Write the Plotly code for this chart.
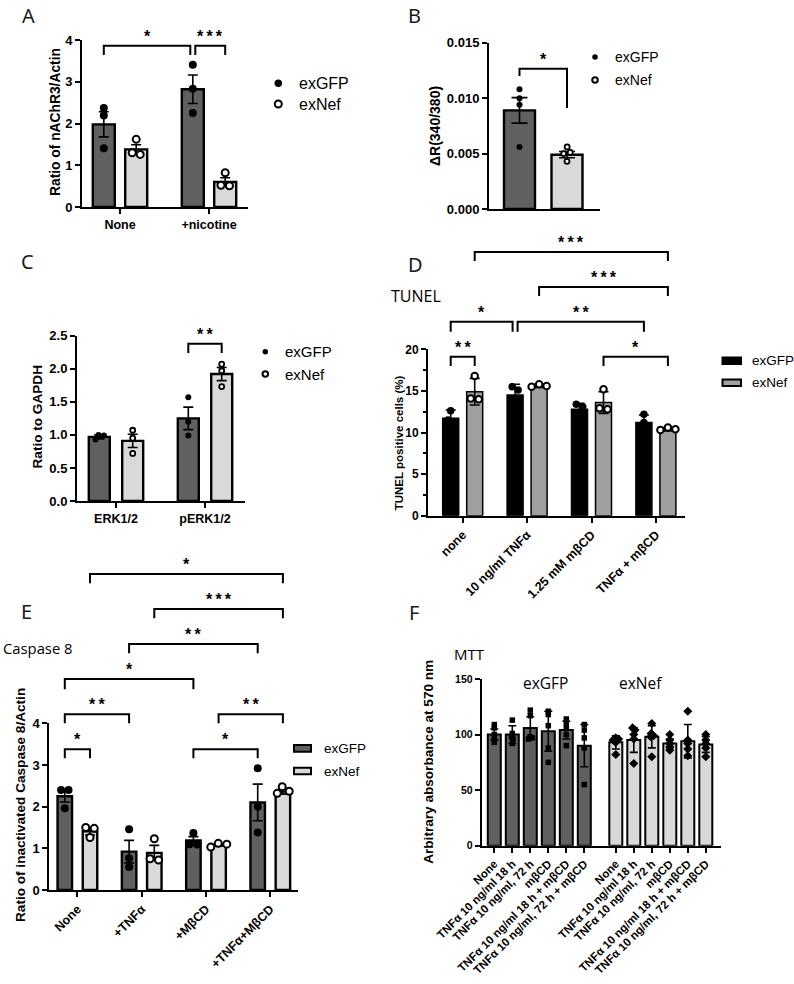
import math
import plotly.graph_objects as go

W, H = 794, 984
NUM = "Liberation Sans"
SANS = "Open Sans"
LET = "Noto Sans"

# ---------------- data ----------------
A_categories = ["None", "+nicotine"]
A_gfp_mean = [1.98, 2.82]
A_gfp_err = [0.30, 0.34]
A_gfp_points = [[2.37, 2.19, 1.41], [3.41, 2.83, 2.25]]
A_nef_mean = [1.38, 0.60]
A_nef_err = [0.11, 0.10]
A_nef_points = [[1.62, 1.26, 1.30], [0.82, 0.51, 0.52]]
A_yticks = [0, 1, 2, 3, 4]

B_groups = ["exGFP", "exNef"]
B_mean = [0.0089, 0.0049]
B_err = [0.00115, 0.00028]
B_points = [[0.0108, 0.0100, 0.0094, 0.0056], [0.0056, 0.0051, 0.0050, 0.0043]]
B_yticks = [0, 0.005, 0.010, 0.015]
B_yticklabels = ["0.000", "0.005", "0.010", "0.015"]

C_categories = ["ERK1/2", "pERK1/2"]
C_gfp_mean = [0.97, 1.25]
C_gfp_err = [0.03, 0.17]
C_gfp_points = [[1.00, 0.99, 0.93], [1.57, 1.20, 0.99]]
C_nef_mean = [0.91, 1.92]
C_nef_err = [0.10, 0.10]
C_nef_points = [[1.07, 0.95, 0.72], [2.07, 1.97, 1.73]]
C_yticks = [0, 0.5, 1.0, 1.5, 2.0, 2.5]

D_categories = ["none", "10 ng/ml TNFα", "1.25 mM mβCD", "TNFα + mβCD"]
D_gfp_mean = [11.7, 14.5, 12.8, 11.2]
D_gfp_err = [1.0, 1.3, 0.7, 0.9]
D_gfp_points = [[12.6, 11.5, 11.0], [15.5, 15.1, 13.0], [13.4, 13.1, 12.0], [12.2, 11.2, 10.3]]
D_nef_mean = [14.9, 15.6, 13.6, 10.4]
D_nef_err = [1.6, 0.2, 1.3, 0.2]
D_nef_points = [[16.8, 14.0, 14.1], [15.8, 15.6, 15.5], [15.2, 12.9, 12.8], [10.6, 10.4, 10.3]]
D_yticks = [0, 5, 10, 15, 20]

E_categories = ["None", "+TNFα", "+MβCD", "+TNFα+MβCD"]
E_gfp_mean = [2.25, 0.92, 1.19, 2.10]
E_gfp_err = [0.14, 0.27, 0.09, 0.44]
E_gfp_points = [[2.40, 2.40, 1.96], [1.46, 0.76, 0.55], [1.37, 1.10, 1.09], [2.92, 2.00, 1.38]]
E_nef_mean = [1.41, 0.89, 1.08, 2.36]
E_nef_err = [0.09, 0.18, 0.03, 0.06]
E_nef_points = [[1.50, 1.48, 1.26], [1.23, 0.75, 0.72], [1.12, 1.10, 1.03], [2.48, 2.37, 2.32]]
E_yticks = [0, 1, 2, 3, 4]

F_categories = ["None", "TNFα 10 ng/ml 18 h", "TNFα 10 ng/ml, 72 h", "mβCD",
                "TNFα 10 ng/ml 18 h + mβCD", "TNFα 10 ng/ml, 72 h + mβCD"]
F_gfp_mean = [100, 100, 106, 103, 104, 90]
F_gfp_err = [5, 8, 10, 18, 8, 19]
F_gfp_points = [[109, 106, 100, 97, 93], [113, 101, 98, 96, 92], [122, 117, 98, 97, 96],
                [121, 118, 108, 88, 75], [114, 110, 106, 100, 90], [109, 104, 97, 88, 55]]
F_nef_mean = [93, 95, 98, 92, 94, 91]
F_nef_err = [6, 11, 10, 4, 15, 7]
F_nef_points = [[97, 96, 95, 93, 82], [106, 104, 100, 96, 74], [110, 101, 99, 98, 80],
                [100, 95, 92, 89, 86], [121, 95, 92, 87, 81], [100, 95, 92, 88, 80]]
F_yticks = [0, 50, 100, 150]

# significance brackets: (series_a, idx_a, series_b, idx_b, y_top, y_leg_left, y_leg_right, label)
A_sig = [("g", 0, "g", 1, 3.86, 3.64, 3.64, "*"), ("g", 1, "n", 1, 3.86, 3.64, 3.64, "***")]
B_sig = [("g", 0, "n", 1, 0.01264, 0.0120, 0.0091, "*")]
C_sig = [("g", 1, "n", 1, 2.38, 2.24, 2.24, "**")]
D_sig = [("g", 0, "n", 0, 19.1, 18.0, 18.0, "**"),
         ("g", 0, "g", 1, 23.3, 22.1, 22.1, "*"),
         ("g", 1, "g", 3, 23.3, 22.1, 22.1, "**"),
         ("n", 1, "n", 3, 27.5, 26.4, 26.4, "***"),
         ("n", 0, "n", 3, 31.7, 30.6, 30.6, "***"),
         ("n", 2, "n", 3, 19.1, 18.0, 18.0, "*")]
E_sig = [("g", 0, "n", 0, 3.38, 3.16, 3.16, "*"),
         ("g", 0, "g", 1, 4.22, 4.00, 4.00, "**"),
         ("g", 0, "g", 2, 5.06, 4.82, 4.82, "*"),
         ("g", 1, "g", 3, 5.90, 5.68, 5.68, "**"),
         ("n", 1, "n", 3, 6.74, 6.52, 6.52, "***"),
         ("n", 0, "n", 3, 7.58, 7.36, 7.36, "*"),
         ("g", 2, "g", 3, 3.38, 3.16, 3.16, "*"),
         ("n", 2, "n", 3, 4.22, 4.00, 4.00, "**")]

# ---------------- geometry (pixels) ----------------
GEO = {
    "A": dict(n=1, xpx=(82, 248), ypx=(40, 207), c0=120, step=89, d=16.2, w=22, yr=(0, 4)),
    "B": dict(n=2, xpx=(489, 600), ypx=(42.7, 209), c0=519.5, step=47.5, d=0, w=31, yr=(0, 0.015)),
    "C": dict(n=3, xpx=(77, 245), ypx=(335.7, 501), c0=116, step=89, d=16.7, w=21, yr=(0, 2.5)),
    "D": dict(n=4, xpx=(428, 685), ypx=(349.3, 515.7), c0=462.7, step=64.4, d=12, w=16, yr=(0, 20)),
    "E": dict(n=5, xpx=(49.3, 298), ypx=(723.3, 890), c0=77.4, step=64.3, d=12.6, w=14.5, yr=(0, 4)),
    "F": dict(n=6, xpx=(481.7, 720.7), ypx=(679, 845.7), c0=494.3, step=18, d=0, w=13, yr=(0, 150)),
}
F_group_gap = 0.75
for g in GEO.values():
    g["xr"] = ((g["xpx"][0] - g["c0"]) / g["step"], (g["xpx"][1] - g["c0"]) / g["step"])
    g["xdom"] = [g["xpx"][0] / W, g["xpx"][1] / W]
    g["ydom"] = [1 - g["ypx"][1] / H, 1 - g["ypx"][0] / H]


def ref(n, letter):
    return letter if n == 1 else f"{letter}{n}"


def px2x(p):
    return p / W


def px2y(p):
    return 1 - p / H


def paper_x(g, v):
    r0, r1 = g["xr"]
    d0, d1 = g["xdom"]
    return d0 + (v - r0) / (r1 - r0) * (d1 - d0)


def paper_y(g, v):
    r0, r1 = g["yr"]
    d0, d1 = g["ydom"]
    return d0 + (v - r0) / (r1 - r0) * (d1 - d0)


def center(g, s, i):
    off = g["d"] / g["step"]
    return i - off if s == "g" else i + off


fig = go.Figure()
shapes, annotations = [], []


def swarm(vals, c, g, size, k=0.9):
    """Deterministic beeswarm: each point takes the nearest free slot to the centre."""
    ypu = (g["ypx"][1] - g["ypx"][0]) / (g["yr"][1] - g["yr"][0])  # px per y unit
    mind = size * k
    order = sorted(range(len(vals)), key=lambda i: -vals[i])
    placed = {}
    cands = [0.0]
    for j in range(1, 120):
        cands += [j * 0.5, -j * 0.5]
    for i in order:
        yi = vals[i] * ypu
        for dx in cands:
            if all(math.hypot(dx - px, yi - py) >= mind for px, py in placed.values()):
                placed[i] = (dx, yi)
                break
    # re-centre groups of touching points
    idx = list(placed)
    comp = {i: i for i in idx}

    def find(a):
        while comp[a] != a:
            a = comp[a]
        return a
    for a in idx:
        for b in idx:
            if a < b and math.hypot(placed[a][0] - placed[b][0], placed[a][1] - placed[b][1]) < mind * 1.15:
                comp[find(a)] = find(b)
    groups = {}
    for i in idx:
        groups.setdefault(find(i), []).append(i)
    xs = [c] * len(vals)
    for members in groups.values():
        m = sum(placed[i][0] for i in members) / len(members)
        for i in members:
            xs[i] = c + (placed[i][0] - m) / g["step"]
    return xs


def add_bars(g, xs, means, errs, color, errw=5, lw=2):
    n = g["n"]
    fig.add_trace(go.Bar(
        x=xs, y=means, width=g["w"] / g["step"],
        marker=dict(color=color, line=dict(color="black", width=lw)),
        error_y=dict(type="data", array=errs, visible=True, color="black", thickness=1.6, width=errw),
        xaxis=ref(n, "x"), yaxis=ref(n, "y"), showlegend=False, hoverinfo="skip"))


def add_points(g, centers, pts, symbol, fill, size, lw, k=0.9):
    n = g["n"]
    xs, ys = [], []
    for c, vals in zip(centers, pts):
        xs += swarm(vals, c, g, size + lw, k)
        ys += vals
    fig.add_trace(go.Scatter(
        x=xs, y=ys, mode="markers", cliponaxis=False,
        marker=dict(symbol=symbol, size=size, color=fill, line=dict(color="black", width=lw)),
        xaxis=ref(n, "x"), yaxis=ref(n, "y"), showlegend=False, hoverinfo="skip"))


def add_brackets(g, sigs, star_size=16, gap_px=2.5):
    ends = {}
    for s in sigs:
        for key in ((s[0], s[1], s[4]), (s[2], s[3], s[4])):
            ends[key] = ends.get(key, 0) + 1
    for sa, ia, sb, ib, yt, yl, yr_, lab in sigs:
        xa = paper_x(g, center(g, sa, ia))
        xb = paper_x(g, center(g, sb, ib))
        if ends[(sa, ia, yt)] > 1:
            xa += gap_px / W
        if ends[(sb, ib, yt)] > 1:
            xb -= gap_px / W
        pt, pl, pr = paper_y(g, yt), paper_y(g, yl), paper_y(g, yr_)
        shapes.append(dict(type="path", xref="paper", yref="paper",
                           path=f"M {xa},{pl} L {xa},{pt} L {xb},{pt} L {xb},{pr}",
                           line=dict(color="black", width=2)))
        annotations.append(dict(xref="paper", yref="paper", x=(xa + xb) / 2, y=pt, yanchor="bottom",
                                xanchor="center", showarrow=False, yshift=-1,
                                text="\u2009".join("*" * len(lab)),
                                font=dict(family=NUM, size=star_size, color="black", weight="bold")))


def text(xpx, ypx, s, size, family=NUM, xanchor="left", bold=False, angle=0, color="black"):
    annotations.append(dict(xref="paper", yref="paper", x=px2x(xpx), y=px2y(ypx), text=s,
                            showarrow=False, xanchor=xanchor, yanchor="middle", textangle=angle,
                            font=dict(family=family, size=size, color=color,
                                      weight="bold" if bold else "normal")))


def legend_circle(xpx, ypx, dpx, filled):
    r = dpx / 2
    shapes.append(dict(type="circle", xref="paper", yref="paper",
                       x0=px2x(xpx - r), x1=px2x(xpx + r), y0=px2y(ypx + r), y1=px2y(ypx - r),
                       fillcolor="black" if filled else "white",
                       line=dict(color="black", width=0 if filled else 2)))


def legend_rect(x0, x1, y0, y1, color):
    shapes.append(dict(type="rect", xref="paper", yref="paper",
                       x0=px2x(x0), x1=px2x(x1), y0=px2y(y1), y1=px2y(y0),
                       fillcolor=color, line=dict(color="black", width=2)))


DARK, LIGHT = "#606060", "#d9d9d9"
D_DARK, D_LIGHT = "#000000", "#a0a0a0"

# ---- Panel A
g = GEO["A"]
gx = [center(g, "g", i) for i in range(len(A_categories))]
nx = [center(g, "n", i) for i in range(len(A_categories))]
add_bars(g, gx, A_gfp_mean, A_gfp_err, DARK, errw=5, lw=2.4)
add_bars(g, nx, A_nef_mean, A_nef_err, LIGHT, errw=5, lw=2.4)
add_points(g, gx, A_gfp_points, "circle", "black", 8, 0)
add_points(g, nx, A_nef_points, "circle", "white", 7, 2)
add_brackets(g, A_sig)

# ---- Panel B
g = GEO["B"]
add_bars(g, [0], [B_mean[0]], [B_err[0]], DARK, errw=8, lw=2.4)
add_bars(g, [1], [B_mean[1]], [B_err[1]], LIGHT, errw=8, lw=2.4)
add_points(g, [0], [B_points[0]], "circle", "black", 6, 0)
add_points(g, [1], [B_points[1]], "circle", "white", 5, 1.8)
add_brackets(g, B_sig)

# ---- Panel C
g = GEO["C"]
gx = [center(g, "g", i) for i in range(len(C_categories))]
nx = [center(g, "n", i) for i in range(len(C_categories))]
add_bars(g, gx, C_gfp_mean, C_gfp_err, DARK, errw=5, lw=2.4)
add_bars(g, nx, C_nef_mean, C_nef_err, LIGHT, errw=5, lw=2.4)
add_points(g, gx, C_gfp_points, "circle", "black", 6, 0)
add_points(g, nx, C_nef_points, "circle", "white", 5, 1.8)
add_brackets(g, C_sig)

# ---- Panel D
g = GEO["D"]
gx = [center(g, "g", i) for i in range(len(D_categories))]
nx = [center(g, "n", i) for i in range(len(D_categories))]
add_bars(g, gx, D_gfp_mean, D_gfp_err, D_DARK, errw=5, lw=1.5)
add_bars(g, nx, D_nef_mean, D_nef_err, D_LIGHT, errw=5, lw=1.5)
add_points(g, gx, D_gfp_points, "circle", "black", 7.5, 0)
add_points(g, nx, D_nef_points, "circle", "white", 6.5, 2)
add_brackets(g, D_sig)

# ---- Panel E
g = GEO["E"]
gx = [center(g, "g", i) for i in range(len(E_categories))]
nx = [center(g, "n", i) for i in range(len(E_categories))]
add_bars(g, gx, E_gfp_mean, E_gfp_err, DARK, errw=5, lw=2.4)
add_bars(g, nx, E_nef_mean, E_nef_err, LIGHT, errw=5, lw=2.4)
add_points(g, gx, E_gfp_points, "circle", "black", 8, 0)
add_points(g, nx, E_nef_points, "circle", "white", 7, 2)
add_brackets(g, E_sig)

# ---- Panel F
g = GEO["F"]
nF = len(F_categories)
F_gx = [float(i) for i in range(nF)]
F_nx = [nF + F_group_gap + i for i in range(nF)]
add_bars(g, F_gx, F_gfp_mean, F_gfp_err, DARK, errw=4, lw=2)
add_bars(g, F_nx, F_nef_mean, F_nef_err, LIGHT, errw=4, lw=2)
add_points(g, F_gx, F_gfp_points, "square", "black", 5.5, 0, k=0.45)
add_points(g, F_nx, F_nef_points, "diamond", "black", 7, 0, k=0.45)

# ---------------- axes ----------------
def axis_common():
    return dict(showline=True, linecolor="black", linewidth=2, ticks="outside", ticklen=5,
                tickwidth=2, tickcolor="black", showgrid=False, zeroline=False, fixedrange=True,
                automargin=False)


def tf(size):
    return dict(family=NUM, size=size, color="black", weight="bold")


xcfg = {
    "A": dict(tickvals=[0, 1], ticktext=A_categories, tickfont=tf(12.5), tickangle=0),
    "B": dict(tickvals=[], ticks="", showticklabels=False),
    "C": dict(tickvals=[0, 1], ticktext=C_categories, tickfont=tf(12.5), tickangle=0),
    "D": dict(tickvals=list(range(4)), ticktext=D_categories, tickfont=tf(12.5), tickangle=-45),
    "E": dict(tickvals=list(range(4)), ticktext=E_categories, tickfont=tf(12.5), tickangle=-45),
    "F": dict(tickvals=F_gx + F_nx, ticktext=F_categories + F_categories, tickfont=tf(11.5), tickangle=-45),
}
ycfg = {
    "A": dict(tickvals=A_yticks, ticktext=[str(v) for v in A_yticks], tickfont=tf(13)),
    "B": dict(tickvals=B_yticks, ticktext=B_yticklabels, tickfont=tf(13)),
    "C": dict(tickvals=C_yticks, ticktext=[f"{v:.1f}" for v in C_yticks], tickfont=tf(13)),
    "D": dict(tickvals=D_yticks, ticktext=[str(v) for v in D_yticks], tickfont=tf(12),
              minor=dict(ticks="outside", ticklen=3, tickwidth=1.5, tickcolor="black", dtick=2.5)),
    "E": dict(tickvals=E_yticks, ticktext=[str(v) for v in E_yticks], tickfont=tf(13)),
    "F": dict(tickvals=F_yticks, ticktext=[str(v) for v in F_yticks], tickfont=tf(10.5)),
}
layout_axes = {}
for key, g in GEO.items():
    n = g["n"]
    xa = axis_common()
    xa.update(domain=g["xdom"], range=list(g["xr"]), anchor=ref(n, "y"))
    xa.update(xcfg[key])
    ya = axis_common()
    ya.update(domain=g["ydom"], range=list(g["yr"]), anchor=ref(n, "x"))
    ya.update(ycfg[key])
    layout_axes["xaxis" if n == 1 else f"xaxis{n}"] = xa
    layout_axes["yaxis" if n == 1 else f"yaxis{n}"] = ya

# ---------------- titles, labels, legends ----------------
text(55, 122, "Ratio of nAChR3/Actin", 13.8, bold=True, xanchor="center", angle=-90)
text(435, 126, "ΔR(340/380)", 14, bold=True, xanchor="center", angle=-90)
text(37, 417.5, "Ratio to GAPDH", 13.6, bold=True, xanchor="center", angle=-90)
text(399.3, 443, "TUNEL positive cells (%)", 11.5, bold=True, xanchor="center", angle=-90)
text(20, 805, "Ratio of inactivated Caspase 8/Actin", 13.6, bold=True, xanchor="center", angle=-90)
text(428.3, 761.5, "Arbitrary absorbance at 570 nm", 13.6, bold=True, xanchor="center", angle=-90)

for lab, x, y in [("A", 28.7, 15), ("B", 414, 15), ("C", 27.5, 261), ("D", 415, 264.7),
                  ("E", 26.7, 611.5), ("F", 414, 612)]:
    text(x, y, lab, 20, family=LET, xanchor="center", color="#1a1a1a")

text(389.3, 296, "TUNEL", 16, family=SANS)
text(1, 648, "Caspase 8", 14.8, family=SANS)
text(451.7, 654.3, "MTT", 15, family=SANS)
text(520.7, 682.7, "exGFP", 15.5, family=SANS)
text(617.3, 682.7, "exNef", 15.5, family=SANS)

# legend A
legend_circle(278.3, 83.3, 7.5, True)
legend_circle(278.3, 104, 7, False)
text(296.7, 83.3, "exGFP", 16)
text(296.7, 104, "exNef", 16)
# legend B
legend_circle(595, 57, 5.5, True)
legend_circle(595, 80, 5.5, False)
text(613.3, 57, "exGFP", 14)
text(613.3, 80, "exNef", 14)
# legend C
legend_circle(265.3, 351.7, 5.5, True)
legend_circle(265.3, 374, 5.5, False)
text(283, 351.7, "exGFP", 15)
text(283, 374, "exNef", 15)
# legend D
legend_rect(722.5, 741, 357.5, 364, D_DARK)
legend_rect(722.5, 741, 379.5, 386, D_LIGHT)
text(750, 360.7, "exGFP", 13.5)
text(750, 382.5, "exNef", 13.5)
# legend E
legend_rect(294, 311, 745, 751.7, DARK)
legend_rect(294, 311, 767.7, 774.3, LIGHT)
text(321.7, 748.3, "exGFP", 13.5)
text(321.7, 771, "exNef", 13.5)

fig.update_layout(
    template="none",
    width=W, height=H, autosize=False,
    margin=dict(l=0, r=0, t=0, b=0, pad=0),
    paper_bgcolor="white", plot_bgcolor="white",
    barmode="overlay", showlegend=False,
    shapes=shapes, annotations=annotations,
    **layout_axes,
)
fig.write_html("out.html")
